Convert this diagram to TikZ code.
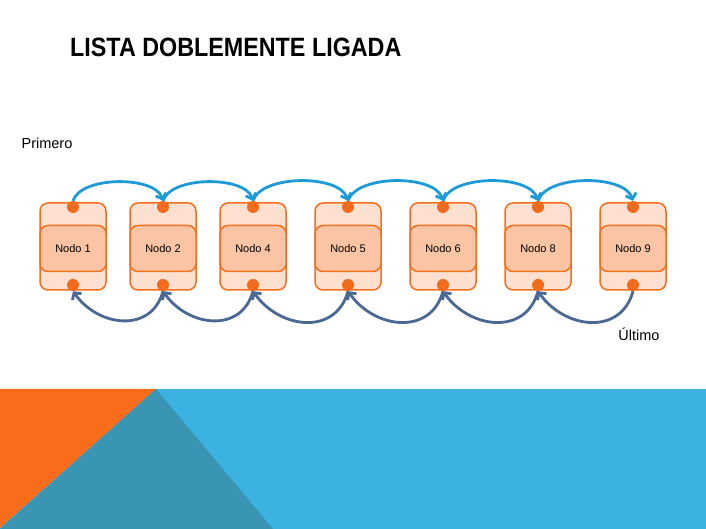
\documentclass[tikz,border=0pt]{standalone}
\usepackage{fontspec}
\setmainfont{Liberation Sans}
\usepackage{graphicx}
\usetikzlibrary{arrows.meta}

\definecolor{cajaClara}{HTML}{FDE0CF}
\definecolor{cajaMedia}{HTML}{FBC4A4}
\definecolor{bordeNaranja}{HTML}{F37021}
\definecolor{puntoNaranja}{HTML}{F26A1B}
\definecolor{flechaAzul}{HTML}{1E9BD7}
\definecolor{flechaGris}{HTML}{4A6893}
\definecolor{fondoAzul}{HTML}{3BB2E0}
\definecolor{fondoVerde}{HTML}{3A95B3}
\definecolor{fondoNaranja}{HTML}{F86C1C}

\begin{document}
\begin{tikzpicture}[x=1pt, y=1pt, >={Straight Barb[length=5pt,width=11pt]},
    caja/.style={draw=bordeNaranja, line width=1.5pt, rounded corners=8pt,
        fill=cajaClara, minimum width=66pt, minimum height=87pt, inner sep=0pt},
    dato/.style={draw=bordeNaranja, line width=1.5pt, rounded corners=8pt,
        fill=cajaMedia, minimum width=66pt, minimum height=46pt, inner sep=0pt,
        font=\fontsize{11}{13}\selectfont},
    punto/.style={circle, fill=puntoNaranja, minimum size=12pt, inner sep=0pt},
    siguiente/.style={->, line width=2.8pt, flechaAzul},
    anterior/.style={->, line width=2.8pt, flechaGris}]

        % Page
        \useasboundingbox (0,0) rectangle (706,529);
        \fill[white] (0,0) rectangle (706,529);

        % Bottom band
        \fill[fondoAzul] (0,0) rectangle (706,140);
        \fill[fondoNaranja] (0,140) -- (156,140) -- (0,1) -- cycle;
        \fill[fondoVerde] (156,140) -- (273,0) -- (0,0) -- cycle;

        % Title
        \node[anchor=base west, inner sep=0pt] (titulo) at (70,472)
            {\scalebox{0.88}[1]{\fontsize{26.5}{30}\selectfont\bfseries LISTA DOBLEMENTE LIGADA}};

        % Geometry
        \def\yc{282.5}   % centre of the boxes
        \def\ys{322}     % next pointer
        \def\ya{244}     % previous pointer

        % Boxes of the list
        \foreach \x/\n [count=\i] in {73/1,163/2,253/4,348/5,443/6,538/8,633/9} {
            \node[caja] (nodo\i) at (\x,\yc) {};
            \node[dato] (dato\i) at (\x,\yc-2) {Nodo \n};
            \node[punto] (sig\i) at (\x,\ys) {};
            \node[punto] (ant\i) at (\x,\ya) {};
        }

        % Links forward and back
        \foreach \i/\j in {1/2,2/3,3/4,4/5,5/6,6/7} {
            \draw[siguiente] (sig\i.north) to[out=72, in=108, looseness=0.75] (sig\j.north);
            \draw[anterior] (ant\j.south) to[out=-105, in=-55, looseness=1.25] (ant\i.south);
        }

        % Labels
        \node[font=\fontsize{14.5}{17}\selectfont] (primero) at (47,386) {Primero};
        \node[font=\fontsize{14.5}{17}\selectfont] (ultimo) at (639,195) {Último};

    \end{tikzpicture}
\end{document}
